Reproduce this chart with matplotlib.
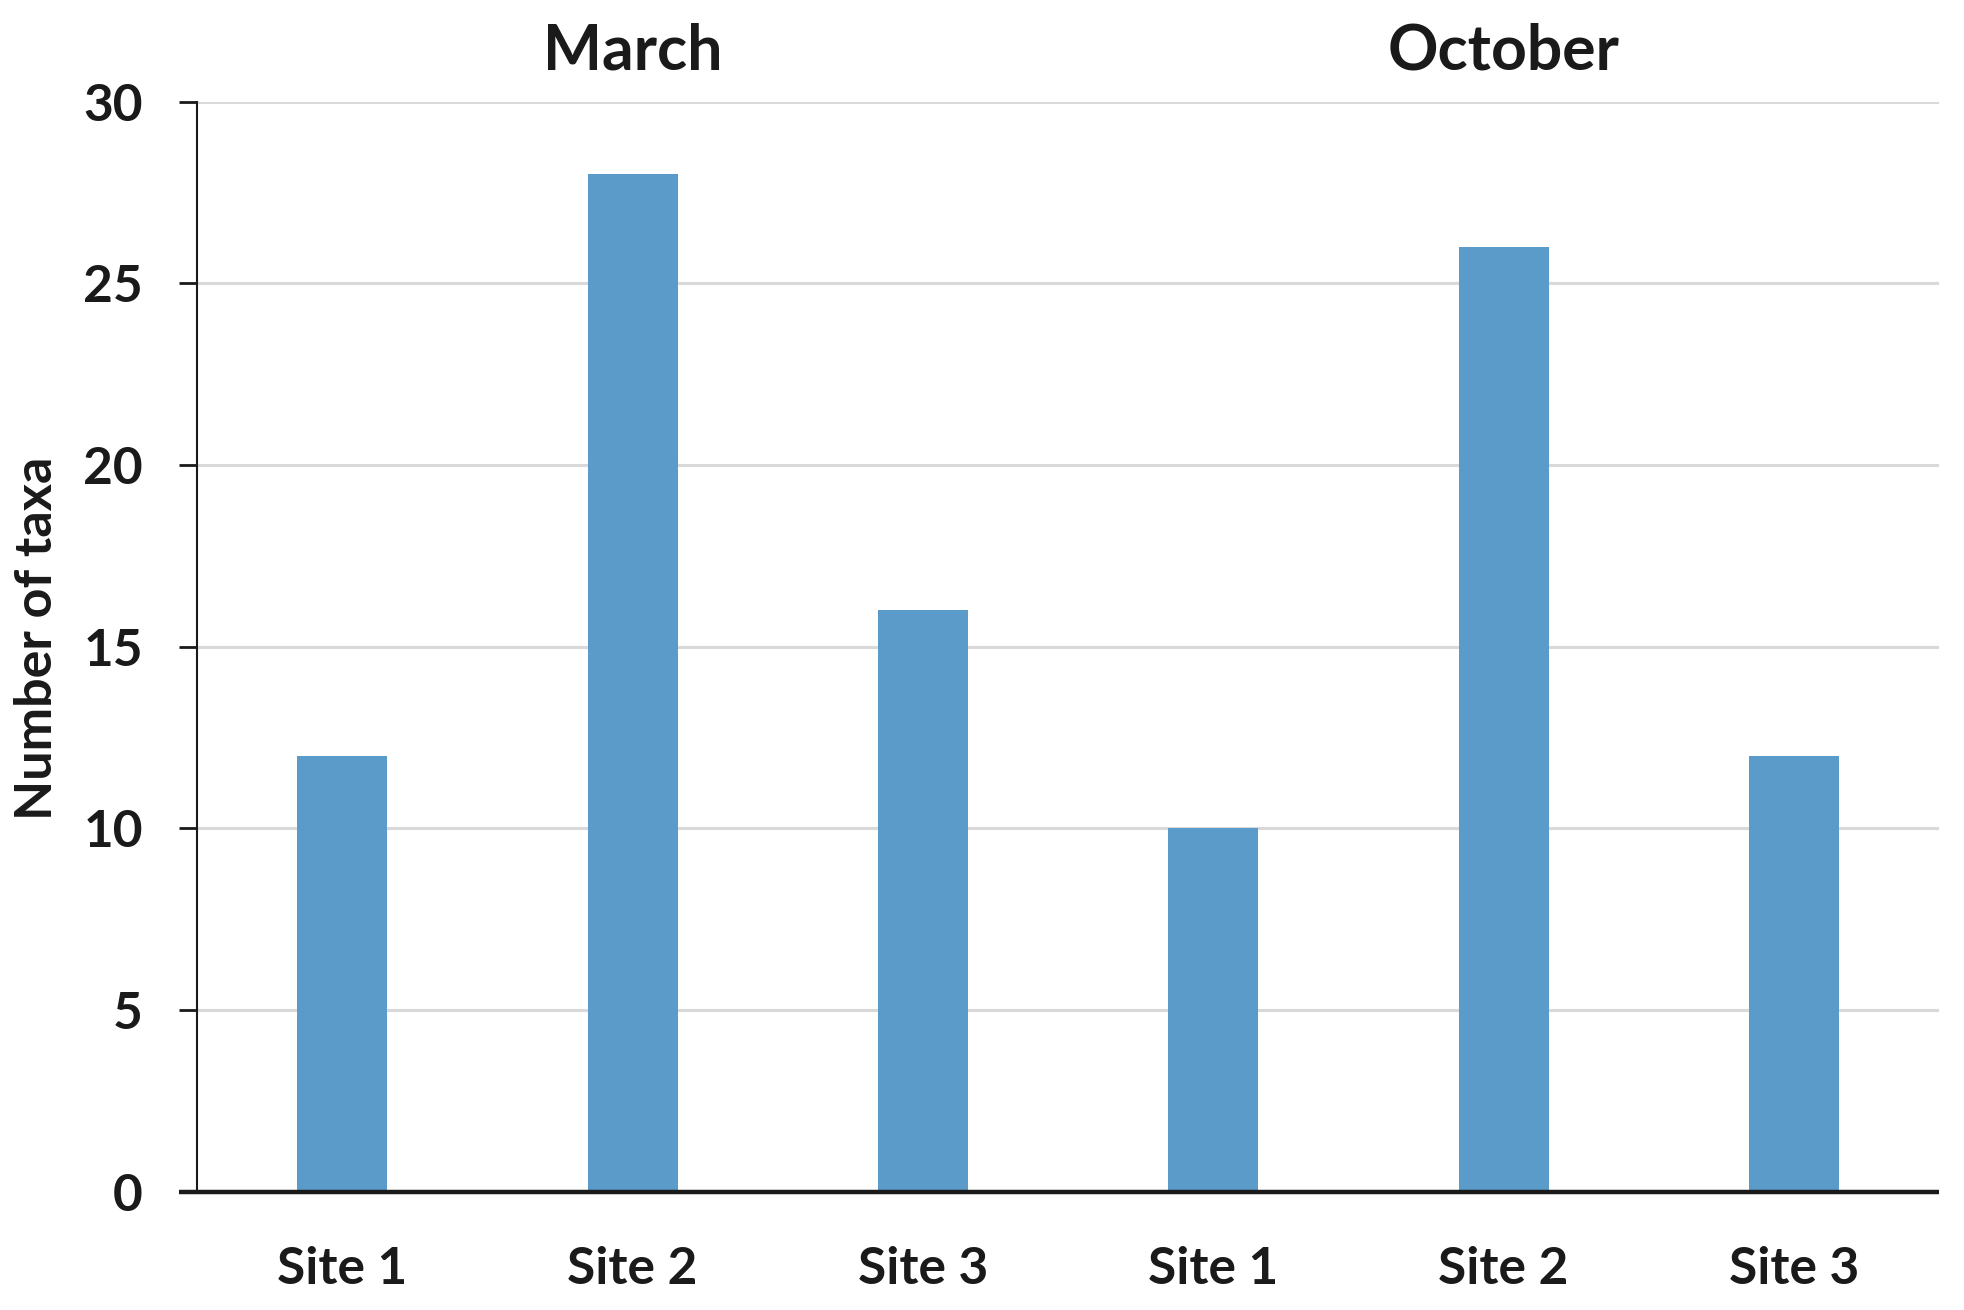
import matplotlib
matplotlib.use("Agg")
from matplotlib import pyplot as plt
import matplotlib.transforms as mtransforms

# === DATI ===
sites = ['Site 1', 'Site 2', 'Site 3', 'Site 1', 'Site 2', 'Site 3']
taxa = [12, 28, 16, 10, 26, 12]
months = ['March', 'October']
month_pos = [1, 4]
yticks = [0, 5, 10, 15, 20, 25, 30]

plt.rcParams['font.family'] = ['Lato', 'DejaVu Sans']
plt.rcParams['font.weight'] = 'bold'

fig = plt.figure(figsize=(19.64, 13.10), dpi=100)
ax = fig.add_axes([0.1003, 0.0901, 0.887, 0.8324])

x = list(range(len(sites)))
ax.bar(x, taxa, width=0.31, color='#5b9bc9', zorder=3)

ax.set_xlim(-0.5, len(sites) - 0.5)
ax.set_ylim(0, 30)
ax.set_yticks(yticks)
ax.set_xticks(x)
ax.set_xticklabels(sites, fontsize=37, fontweight='bold', color='#1a1a1a')
ax.tick_params(axis='x', length=0, pad=39)
ax.tick_params(axis='y', length=13, width=2, pad=26, labelsize=37,
               labelcolor='#1a1a1a', color='#1a1a1a')
for lab in ax.get_yticklabels():
    lab.set_fontweight('bold')

ax.yaxis.grid(True, color='#d9d9d9', linewidth=2.2, zorder=0)
ax.set_axisbelow(True)

for s in ['top', 'right', 'bottom']:
    ax.spines[s].set_visible(False)
ax.spines['left'].set_linewidth(1.5)
ax.spines['left'].set_color('#1a1a1a')

# asse orizzontale che sporge a sinistra
trans = mtransforms.blended_transform_factory(ax.transAxes, ax.transData)
ax.plot([-0.0103, 1.0], [0, 0], transform=trans, color='#1a1a1a',
        linewidth=3.2, clip_on=False, zorder=5, solid_capstyle='butt')

ax.set_ylabel('Number of taxa', fontsize=37.5, fontweight='bold', color='#1a1a1a')
ax.yaxis.set_label_coords(-0.078, 0.508)

ttrans = mtransforms.blended_transform_factory(ax.transData, ax.transAxes)
for m, p in zip(months, month_pos):
    ax.text(p, 1.046, m, transform=ttrans, ha='center', va='center',
            fontsize=45, fontweight='bold', color='#1a1a1a')

plt.savefig('out.png', dpi=100)
plt.close()
